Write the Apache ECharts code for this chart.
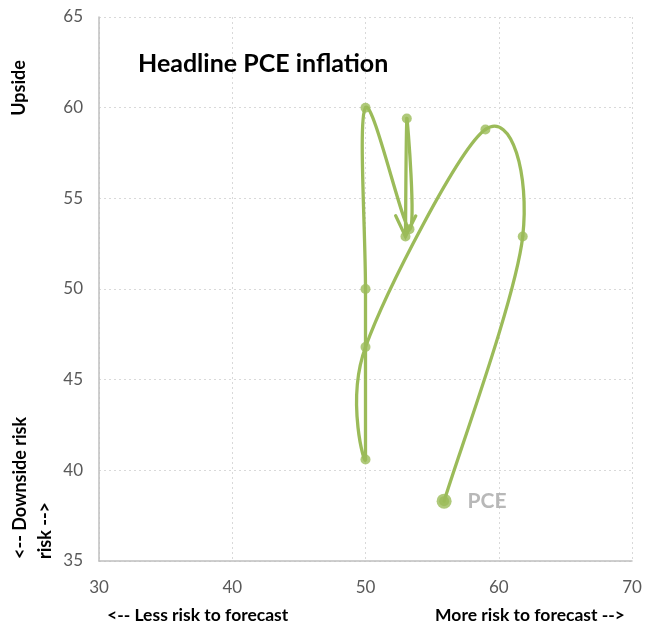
<!DOCTYPE html>
<html>
<head>
<meta charset="utf-8">
<script src="https://cdn.jsdelivr.net/npm/echarts@6/dist/echarts.min.js"></script>
<style>
  html, body { margin: 0; padding: 0; background: #ffffff; }
  #chart { width: 657px; height: 629px; }
</style>
</head>
<body>
<div id="chart"></div>
<script>
// Risk-balance path for headline PCE inflation
const seriesName = 'PCE';
const riskX = [55.9, 61.8, 59.0, 50.0, 50.0, 50.0, 50.0, 53.3, 53.1, 53.0];
const riskY = [38.3, 52.9, 58.8, 46.8, 40.6, 50.0, 60.0, 53.3, 59.4, 52.9];

// Axis tick labels
const xTicks = [30, 40, 50, 60, 70];
const yTicks = [35, 40, 45, 50, 55, 60, 65];

const chartTitle = 'Headline PCE inflation';
const xNameLeft = '<-- Less risk to forecast';
const xNameRight = 'More risk to forecast -->';
const yNameTop = 'Upside';
const yNameBottom = '<-- Downside risk\nrisk -->';

const GREEN = '#9BBB59';
const FONT = 'Lato, "Open Sans", sans-serif';

const chart = echarts.init(document.getElementById('chart'), null, { renderer: 'canvas' });
const n = riskX.length;

// Smooth path drawn segment by segment (Catmull-Rom style bezier through the points)
function renderPath(params, api) {
  const i = params.dataIndex;
  const pt = (k) => {
    const j = Math.max(0, Math.min(n - 1, k));
    return api.coord([riskX[j], riskY[j]]);
  };
  if (i < n - 1) {
    const p0 = pt(i - 1), p1 = pt(i), p2 = pt(i + 1), p3 = pt(i + 2);
    return {
      type: 'bezierCurve',
      shape: {
        x1: p1[0], y1: p1[1], x2: p2[0], y2: p2[1],
        cpx1: p1[0] + (p2[0] - p0[0]) / 6,
        cpy1: p1[1] + (p2[1] - p0[1]) / 6,
        cpx2: p2[0] - (p3[0] - p1[0]) / 6,
        cpy2: p2[1] - (p3[1] - p1[1]) / 6
      },
      style: { stroke: GREEN, lineWidth: 3.3, fill: null, lineCap: 'round' }
    };
  }
  // open arrowhead at the end of the path
  const tip = pt(n - 1), prev = pt(n - 2);
  let dx = tip[0] - prev[0], dy = tip[1] - prev[1];
  const len = Math.sqrt(dx * dx + dy * dy) || 1;
  dx /= len; dy /= len;
  const L = 23, th = 26 * Math.PI / 180;
  const arm = (s) => {
    const c = Math.cos(s * th), sn = Math.sin(s * th);
    const rx = dx * c - dy * sn, ry = dx * sn + dy * c;
    return [tip[0] - rx * L, tip[1] - ry * L];
  };
  return {
    type: 'polyline',
    shape: { points: [arm(1), tip, arm(-1)] },
    style: { stroke: GREEN, lineWidth: 3.3, fill: null, lineJoin: 'miter', lineCap: 'round' }
  };
}

const points = riskX.map((x, i) => [x, riskY[i]]);

const option = {
  backgroundColor: '#ffffff',
  animation: false,
  title: {
    text: chartTitle,
    left: 138,
    top: 51,
    padding: 0,
    textStyle: { fontFamily: FONT, fontSize: 25, fontWeight: 'bold', color: '#000000' }
  },
  grid: { left: 99, right: 25, top: 17, bottom: 68, containLabel: false },
  xAxis: {
    type: 'value',
    min: xTicks[0],
    max: xTicks[xTicks.length - 1],
    interval: xTicks[1] - xTicks[0],
    axisLine: { show: true, lineStyle: { color: '#BFBFBF', width: 1.5 } },
    axisTick: { show: false },
    axisLabel: { color: '#595959', fontFamily: FONT, fontSize: 17, margin: 18 },
    splitLine: { show: true, lineStyle: { color: '#D9D9D9', type: [2, 3], width: 1 } }
  },
  yAxis: {
    type: 'value',
    min: yTicks[0],
    max: yTicks[yTicks.length - 1],
    interval: yTicks[1] - yTicks[0],
    axisLine: { show: true, lineStyle: { color: '#BFBFBF', width: 1.5 } },
    axisTick: { show: false },
    axisLabel: { color: '#595959', fontFamily: FONT, fontSize: 17, margin: 16 },
    splitLine: { show: true, lineStyle: { color: '#D9D9D9', type: [2, 3], width: 1 } }
  },
  graphic: [
    {
      type: 'text', left: 107, top: 606,
      style: { text: xNameLeft, fontFamily: FONT, fontSize: 17.5, fontWeight: 'bold', fill: '#000000' }
    },
    {
      type: 'text', right: 32, top: 606,
      style: { text: xNameRight, fontFamily: FONT, fontSize: 17.5, fontWeight: 'bold', fill: '#000000' }
    },
    {
      type: 'text', x: 10, y: 88, rotation: Math.PI / 2,
      style: { text: yNameTop, fontFamily: FONT, fontSize: 18, fontWeight: 'bold', fill: '#000000',
               align: 'center', verticalAlign: 'top' }
    },
    {
      type: 'text', x: 8, y: 559, rotation: Math.PI / 2,
      style: { text: yNameBottom, fontFamily: FONT, fontSize: 18, fontWeight: 'bold', fill: '#000000',
               align: 'left', verticalAlign: 'top', lineHeight: 25 }
    }
  ],
  series: [
    {
      type: 'custom',
      name: seriesName,
      coordinateSystem: 'cartesian2d',
      data: points,
      encode: { x: 0, y: 1 },
      renderItem: renderPath,
      silent: true,
      z: 2
    },
    {
      type: 'scatter',
      name: seriesName,
      data: points,
      symbolSize: 10,
      itemStyle: { color: GREEN },
      silent: true,
      z: 3
    },
    {
      type: 'scatter',
      name: seriesName,
      data: [points[0]],
      symbolSize: 15,
      itemStyle: { color: GREEN },
      label: {
        show: true,
        position: 'right',
        distance: 16,
        formatter: seriesName,
        fontFamily: FONT,
        fontSize: 21,
        fontWeight: 'bold',
        color: '#A6A6A6'
      },
      silent: true,
      z: 4
    }
  ]
};

chart.setOption(option);
</script>
</body>
</html>
